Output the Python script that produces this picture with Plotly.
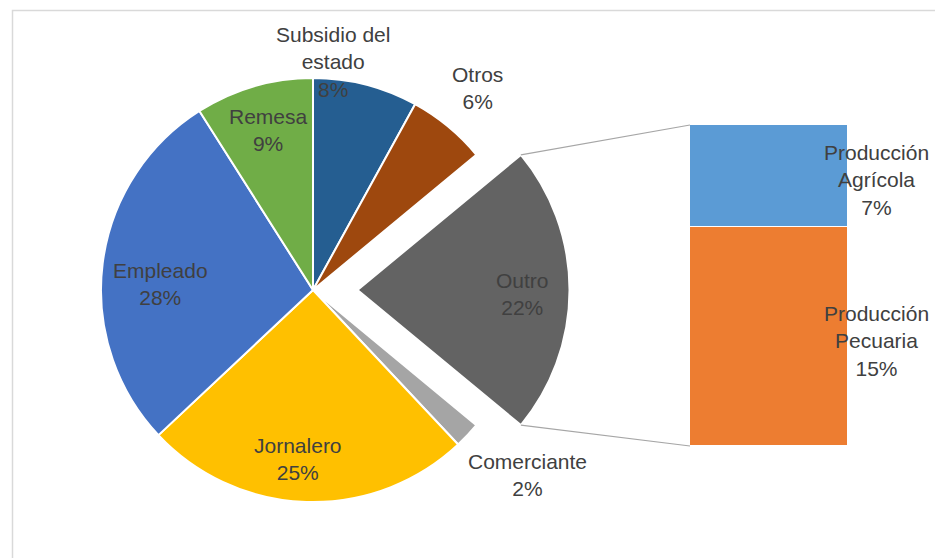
import math
import plotly.graph_objects as go

# Main pie: income sources (percent), clockwise from 12 o'clock
pie_labels = ["Subsidio del estado", "Otros", "Outro", "Comerciante",
              "Jornalero", "Empleado", "Remesa"]
pie_values = [8, 6, 22, 2, 25, 28, 9]
pie_colors = ["#255E91", "#9E480E", "#636363", "#A5A5A5",
              "#FFC000", "#4472C4", "#70AD47"]

# Breakdown of the "Outro" slice
bar_labels = ["Producción Pecuaria", "Producción Agrícola"]
bar_values = [15, 7]
bar_colors = ["#ED7D31", "#5B9BD5"]

W, H = 935, 558
TEXT = "#404040"
FONT = "Liberation Sans"
FSIZE = 21

# pie geometry in pixels
CX, CY, R = 313, 290, 212
PULL = 0.21
box = 2 * R * (1 + PULL)

def px(x):
    return x / W

def py(y):
    return 1 - y / H

pulls = [PULL if lab == "Outro" else 0 for lab in pie_labels]

fig = go.Figure()
fig.add_trace(go.Pie(
    labels=pie_labels, values=pie_values, sort=False, direction="clockwise",
    rotation=0, pull=pulls, textinfo="none", hoverinfo="label+percent",
    marker=dict(colors=pie_colors, line=dict(color="white", width=2)),
    domain=dict(x=[px(CX - box / 2), px(CX + box / 2)],
                y=[py(CY + box / 2), py(CY - box / 2)]),
    showlegend=False,
))

# stacked bar for the breakdown
BX0, BX1, BY0, BY1 = 690, 848, 125, 446
for lab, val, col in zip(bar_labels, bar_values, bar_colors):
    fig.add_trace(go.Bar(
        x=[0], y=[val], width=1, name=lab, marker_color=col,
        marker_line=dict(color="white", width=1.5),
        xaxis="x", yaxis="y", showlegend=False, hoverinfo="name+y",
    ))

total = sum(pie_values)
bar_total = sum(bar_values)

# connector lines from the exploded slice edges to the bar corners
idx = pie_labels.index("Outro")
a0 = sum(pie_values[:idx]) / total * 2 * math.pi
a1 = sum(pie_values[:idx + 1]) / total * 2 * math.pi
amid = (a0 + a1) / 2
ox = CX + PULL * R * math.sin(amid)
oy = CY - PULL * R * math.cos(amid)
p_top = (ox + R * math.sin(a0), oy - R * math.cos(a0))
p_bot = (ox + R * math.sin(a1), oy - R * math.cos(a1))

shapes = [
    dict(type="line", xref="paper", yref="paper",
         x0=px(p_top[0]), y0=py(p_top[1]), x1=px(BX0), y1=py(BY0),
         line=dict(color="#A6A6A6", width=1.2)),
    dict(type="line", xref="paper", yref="paper",
         x0=px(p_bot[0]), y0=py(p_bot[1]), x1=px(BX0), y1=py(BY1),
         line=dict(color="#A6A6A6", width=1.2)),
    dict(type="rect", xref="paper", yref="paper",
         x0=px(12.5), y0=py(H + 5), x1=px(W + 5), y1=py(10.5),
         line=dict(color="#D9D9D9", width=1.5)),
]

def pct(v, tot):
    return f"{round(v / tot * 100)}%"

# data labels (centre positions in pixels)
pie_label_text = {
    "Subsidio del estado": "Subsidio del<br>estado",
}
pie_label_pos = {
    "Subsidio del estado": (333, 62),
    "Otros": (477, 88),
    "Outro": (522, 294),
    "Comerciante": (527, 475),
    "Jornalero": (298, 459),
    "Empleado": (160, 284),
    "Remesa": (268, 130),
}

def label(x, y, text):
    return dict(
        x=px(x), y=py(y), xref="paper", yref="paper", showarrow=False,
        xanchor="center", yanchor="middle", text=text, align="center",
        font=dict(family=FONT, size=FSIZE, color=TEXT),
    )

annotations = []
for lab, val in zip(pie_labels, pie_values):
    x, y = pie_label_pos[lab]
    name = pie_label_text.get(lab, lab)
    annotations.append(label(x, y, f"{name}<br>{pct(val, total)}"))

bar_label_pos = {"Producción Agrícola": (876, 180),
                 "Producción Pecuaria": (876, 341)}
for lab, val in zip(bar_labels, bar_values):
    x, y = bar_label_pos[lab]
    first, second = lab.split(" ", 1)
    annotations.append(label(x, y, f"{first}<br>{second}<br>{pct(val, total)}"))

fig.update_layout(
    width=W, height=H, margin=dict(l=0, r=0, t=0, b=0),
    paper_bgcolor="white", plot_bgcolor="rgba(0,0,0,0)",
    barmode="stack", bargap=0,
    xaxis=dict(domain=[px(BX0), px(BX1)], range=[-0.5, 0.5], visible=False,
               fixedrange=True),
    yaxis=dict(domain=[py(BY1), py(BY0)], range=[0, bar_total], visible=False,
               fixedrange=True),
    shapes=shapes, annotations=annotations,
    font=dict(family=FONT),
)

fig.write_html("out.html")
